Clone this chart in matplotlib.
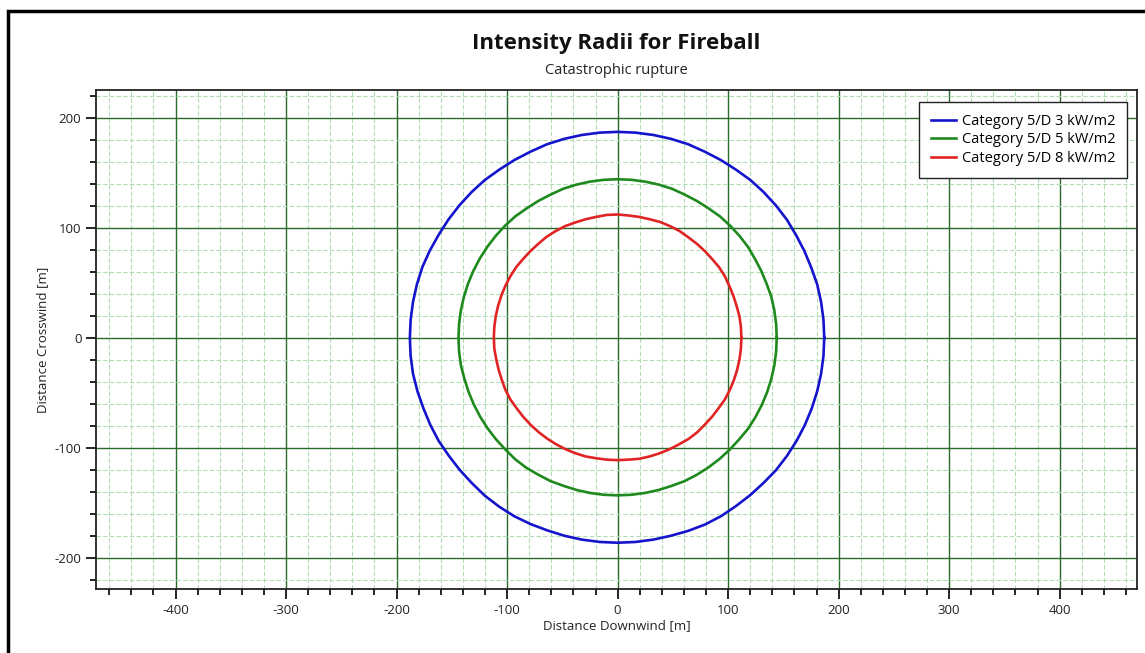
import matplotlib
matplotlib.use('Agg')
import matplotlib.pyplot as plt
from matplotlib.patches import Rectangle
from matplotlib.ticker import MultipleLocator
import numpy as np

plt.rcParams['font.family'] = ['Open Sans', 'DejaVu Sans']
plt.rcParams['axes.unicode_minus'] = False

# contour readings: radius [m] every 5 degrees, starting east, counter-clockwise
angle_step = 5
radius_3kw = [187, 187, 187, 187, 186.5, 186.5, 186.5, 187, 187, 187, 187, 186.5,
              186.5, 186.5, 187, 187, 187, 187, 187, 187, 187, 187, 187, 186.5,
              186.5, 186.5, 187, 187, 187, 187, 187, 187.5, 188, 188, 188, 188,
              188, 188, 188, 187.5, 187, 187, 187, 186.5, 186.5, 186.5, 187, 187,
              187, 186.5, 186, 186, 186, 186, 186, 186, 186, 186, 186.5, 187,
              187, 186.5, 186.5, 186.5, 187, 187, 187, 187, 187, 187, 187, 187]
radius_5kw = [144, 144, 144, 144, 143.5, 143.5, 143.5, 144, 144, 144, 144, 143.5,
              143.5, 143.5, 144, 144, 144, 144, 144, 144, 144, 144, 144, 143.5,
              143.5, 143.5, 144, 144, 144, 144, 144, 144, 144, 144, 144, 144,
              144, 144, 144, 143.5, 143.5, 143.5, 143.5, 143.5, 143.5, 143.5, 144, 144,
              143.5, 143.5, 143, 143, 143, 143, 143, 143, 143, 143, 143, 143.5,
              143.5, 143.5, 143.5, 143.5, 143.5, 144, 144, 144, 144, 144, 144, 144]
radius_8kw = [112, 112, 112, 111.5, 111.5, 111.5, 112, 112, 111.5, 111.5, 111.5, 111.5,
              112, 112, 112, 111.5, 111.5, 111.5, 112, 112, 111.5, 111.5, 111.5, 112,
              112, 112, 111.5, 111.5, 111.5, 112, 112, 112, 112, 112, 112, 112,
              112, 112, 111.5, 111.5, 111.5, 112, 112, 111.5, 111.5, 111.5, 111.5, 111.5,
              111.5, 111.5, 111.5, 111.5, 111, 111, 111, 111, 111.5, 111.5, 111.5, 111.5,
              111.5, 112, 112, 111.5, 111.5, 111.5, 112, 112, 112, 112, 112, 112]

labels = ['Category 5/D 3 kW/m2', 'Category 5/D 5 kW/m2', 'Category 5/D 8 kW/m2']
colors = ['#1414cc', '#1e8a1e', '#e02424']


def contour(radii):
	th = np.deg2rad(np.arange(len(radii) + 1) * angle_step)
	r = np.array(radii + [radii[0]], dtype=float)
	return r * np.cos(th), r * np.sin(th)


fig = plt.figure(figsize=(11.45, 6.53), dpi=100)
ax = fig.add_axes([96/1145, (653-589)/653, (1137-96)/1145, (589-90)/653])

for radii, lab, c in zip([radius_3kw, radius_5kw, radius_8kw], labels, colors):
	x, y = contour(radii)
	ax.plot(x, y, color=c, lw=1.9, label=lab, zorder=3)

ax.set_xlim(-472, 470)
ax.set_ylim(-228, 225)
ax.xaxis.set_major_locator(MultipleLocator(100))
ax.xaxis.set_minor_locator(MultipleLocator(20))
ax.yaxis.set_major_locator(MultipleLocator(100))
ax.yaxis.set_minor_locator(MultipleLocator(20))
ax.grid(which='minor', color='#b4dcb4', ls=(0, (4, 2)), lw=0.8, zorder=1)
ax.grid(which='major', color='#2a6a2a', ls='-', lw=1.0, zorder=2)
ax.set_axisbelow(True)
ax.tick_params(which='major', direction='out', length=7, width=1.2, labelsize=9.5, colors='black', labelcolor='#222222')
ax.tick_params(which='minor', direction='out', length=4, width=1.2)
for s in ax.spines.values():
	s.set_color('#222222')
	s.set_linewidth(1.3)

ax.set_xlabel('Distance Downwind [m]', fontsize=9.5, color='#222222', labelpad=2)
ax.set_ylabel('Distance Crosswind [m]', fontsize=9.5, color='#222222', labelpad=4)

fig.text(616/1145, 1 - 44/653, 'Intensity Radii for Fireball', ha='center', va='center',
		 fontsize=16, fontweight='bold', color='#111111')
fig.text(616/1145, 1 - 71/653, 'Catastrophic rupture', ha='center', va='center',
		 fontsize=10.5, color='#222222')

leg = ax.legend(loc='upper right', bbox_to_anchor=(1127/1145, 1 - 102/653),
				bbox_transform=fig.transFigure, fontsize=10.5, fancybox=False,
				framealpha=1, edgecolor='#222222', handlelength=1.7,
				handletextpad=0.4, labelspacing=0.25, borderpad=0.8, borderaxespad=0)
leg.get_frame().set_linewidth(1.0)

# outer frame, cut off at right and bottom in the original screenshot
fig.patches.append(Rectangle((8/1145, -0.1), 1.2, 1 - 11/653 + 0.1, transform=fig.transFigure,
							 fill=False, edgecolor='black', lw=2.5, zorder=10))

plt.savefig('out.png', dpi=100)
